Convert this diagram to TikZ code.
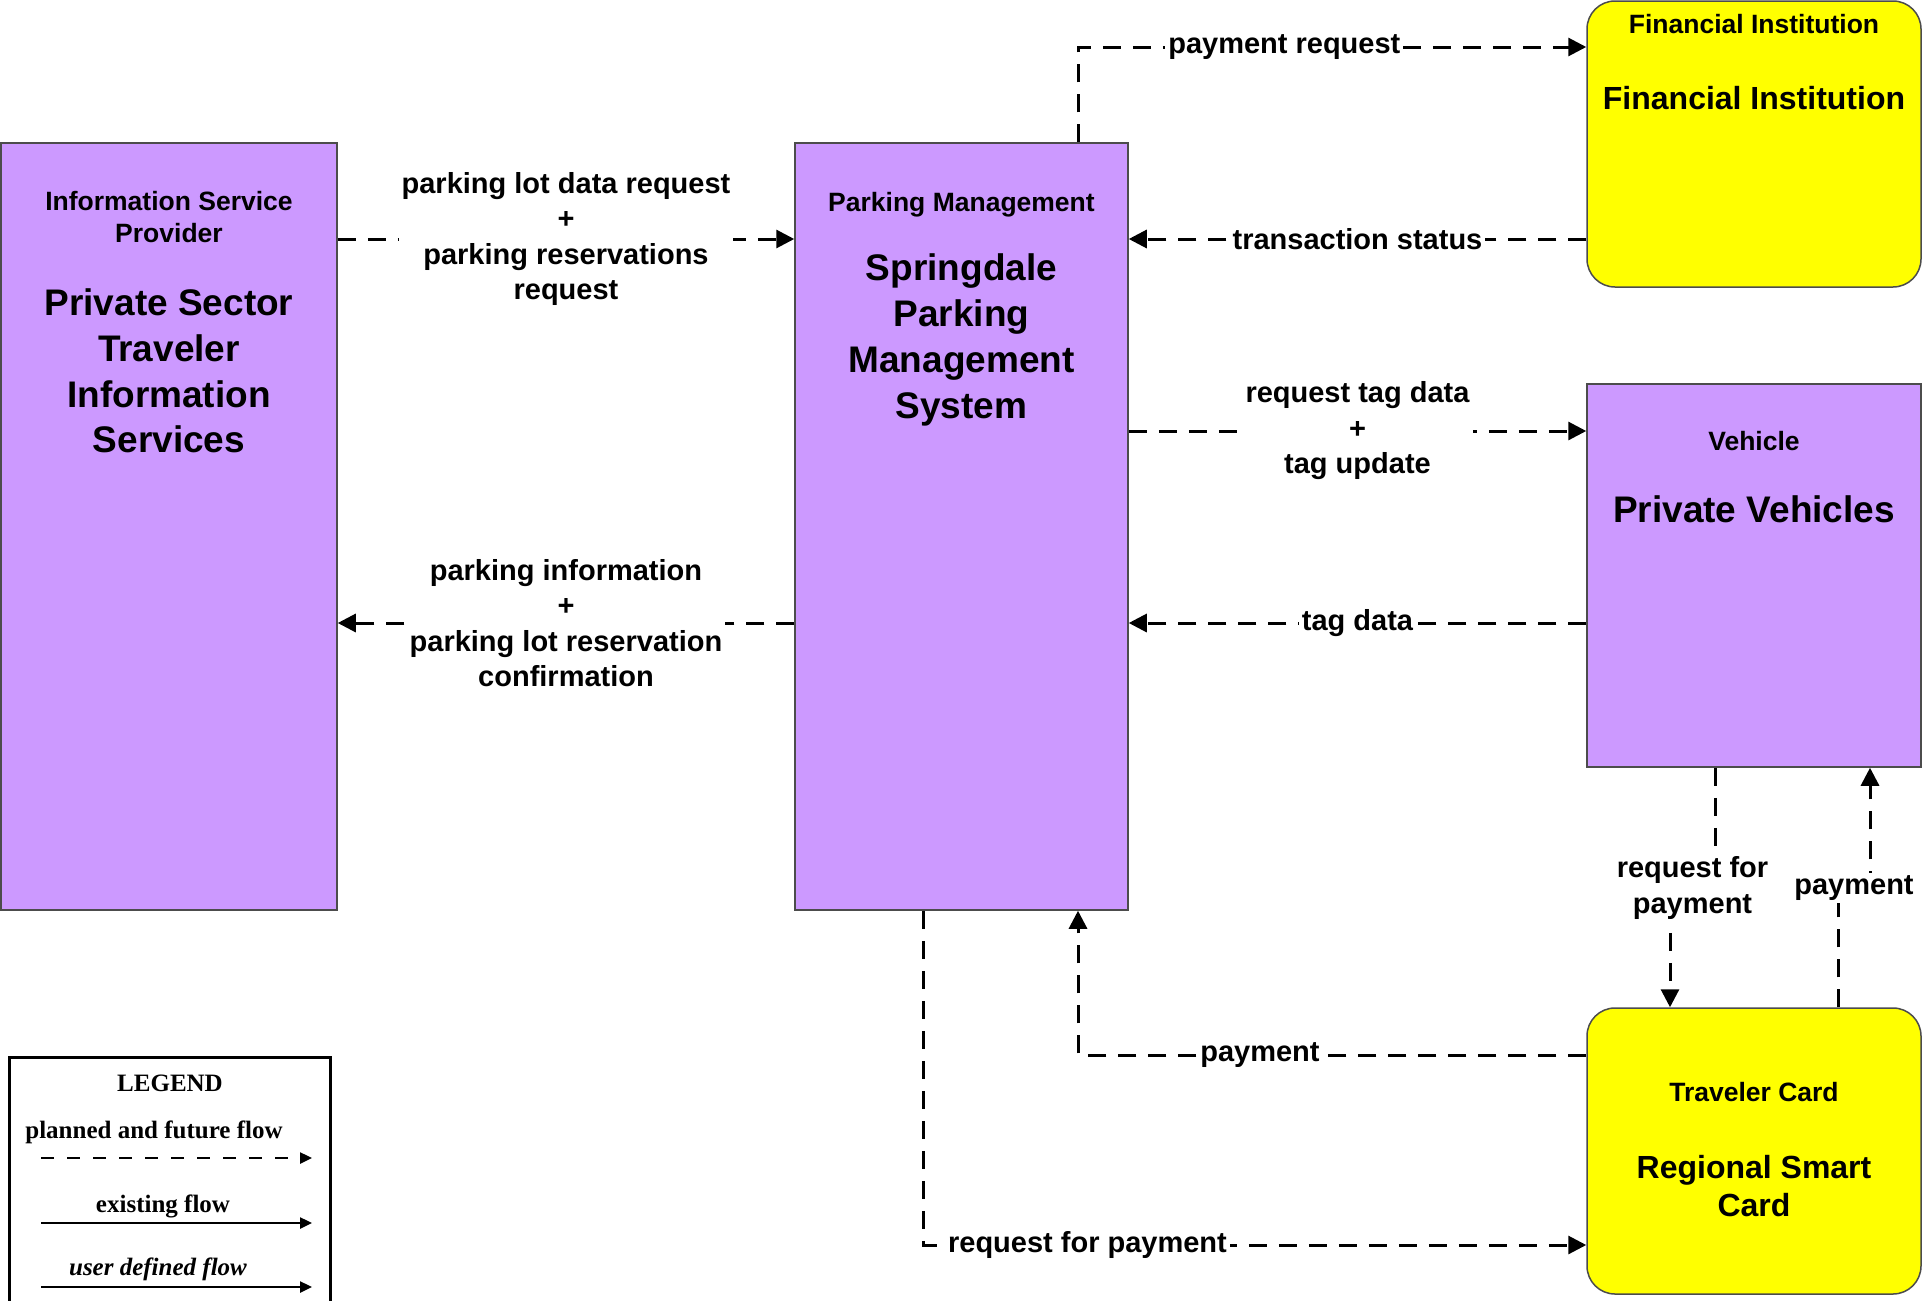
\documentclass[tikz,border=0pt]{standalone}
\usepackage{fontspec}
\setmainfont{Liberation Sans}
\newfontfamily\legendfont{Liberation Serif}
\usetikzlibrary{arrows.meta,positioning}
\definecolor{entpurple}{HTML}{CC99FF}
\definecolor{entyellow}{HTML}{FFFF00}

\begin{document}
\begin{tikzpicture}[x=1pt,y=-1pt,
  sysbox/.style={draw=black!70, line width=1.5pt, fill=entpurple, inner sep=0pt},
  termbox/.style={sysbox, fill=entyellow, rounded corners=28pt},
  typelbl/.style={font=\fontsize{26.5}{31.8}\selectfont\bfseries, align=center, inner sep=0pt},
  bigname/.style={font=\fontsize{37}{45.8}\selectfont\bfseries, align=center, inner sep=0pt},
  midname/.style={font=\fontsize{32}{38.4}\selectfont\bfseries, align=center, inner sep=0pt},
  flow/.style={line width=3pt, dash pattern=on 18pt off 12pt, -{Triangle[length=18pt,width=18pt]}},
  flowlbl/.style={font=\fontsize{29}{35.5}\selectfont\bfseries, align=center, fill=white, inner sep=3pt},
  legtxt/.style={font=\legendfont\fontsize{25}{30}\selectfont\bfseries, inner sep=0pt},
  legflow/.style={line width=2.5pt, -{Triangle[length=12pt,width=11pt]}}]
  \useasboundingbox (0,0) rectangle (1923,1301);
  % entities
  \node[sysbox, minimum width=336pt, minimum height=767pt] (isp) at (169,526.5) {};
  \node[sysbox, minimum width=333pt, minimum height=767pt] (pms) at (961.5,526.5) {};
  \node[termbox, minimum width=334pt, minimum height=286pt] (fin) at (1754,144) {};
  \node[sysbox, minimum width=334pt, minimum height=383pt] (veh) at (1754,575.5) {};
  \node[termbox, minimum width=334pt, minimum height=286pt] (card) at (1754,1151) {};
  \node[typelbl] (isp-type) at (169,217) {Information Service\\Provider};
  \node[bigname] (isp-name) at (169,371) {Private Sector\\Traveler\\Information\\Services};
  \node[typelbl] (pms-type) at (961.5,205) {Parking Management};
  \node[bigname] (pms-name) at (961.5,340) {Springdale\\Parking\\Management\\System};
  \node[typelbl] (fin-type) at (1754,24) {Financial Institution};
  \node[midname] (fin-name) at (1754,98) {Financial Institution};
  \node[typelbl] (veh-type) at (1754,441) {Vehicle};
  \node[bigname] (veh-name) at (1754,509) {Private Vehicles};
  \node[typelbl] (card-type) at (1754,1092) {Traveler Card};
  \node[midname] (card-name) at (1754,1186) {Regional Smart\\Card};
  % rows and columns of the flows
  \coordinate (rowF) at (0,47);
  \coordinate (rowA) at (0,239);
  \coordinate (rowB) at (0,431);
  \coordinate (rowC) at (0,623);
  \coordinate (rowJ) at (0,888);
  \coordinate (rowD) at (0,1055);
  \coordinate (rowE) at (0,1245);
  \coordinate (colU) at (923,0);
  \coordinate (colP) at (1078,0);
  \coordinate (colR) at (1670,0);
  \coordinate (colQ) at (1715,0);
  \coordinate (colS) at (1838,0);
  \coordinate (colT) at (1870,0);
  % flows
  \draw[flow] (isp.east |- rowA) -- node[flowlbl] {parking lot data request\\+\\parking reservations\\request} (pms.west |- rowA);
  \draw[flow] (pms.west |- rowC) -- node[flowlbl] {parking information\\+\\parking lot reservation\\confirmation} (isp.east |- rowC);
  \draw[flow] (pms.north -| colP) -- (colP |- rowF) -- node[flowlbl, pos=0.406] {payment request} (fin.west |- rowF);
  \draw[flow] (fin.west |- rowA) -- node[flowlbl] {transaction status} (pms.east |- rowA);
  \draw[flow] (pms.east |- rowB) -- node[flowlbl] {request tag data\\+\\tag update} (veh.west |- rowB);
  \draw[flow] (veh.west |- rowC) -- node[flowlbl] {tag data} (pms.east |- rowC);
  \draw[flow] (veh.south -| colQ) -- (colQ |- rowJ) -- node[flowlbl] {request for\\payment} (colR |- rowJ) -- (card.north -| colR);
  \draw[flow] (card.north -| colS) -- (colS |- rowJ) -- node[flowlbl] {payment} (colT |- rowJ) -- (veh.south -| colT);
  \draw[flow] (card.west |- rowD) -- node[flowlbl, pos=0.642] {payment} (colP |- rowD) -- (pms.south -| colP);
  \draw[flow] (pms.south -| colU) -- (colU |- rowE) -- node[flowlbl, pos=0.248] {request for payment} (card.west |- rowE);
  % legend
  \node[draw, line width=3pt, minimum width=321pt, minimum height=262pt, inner sep=0pt] (legend) at (169.5,1188) {};
  \node[legtxt] (leg-title) at (170,1083.5) {LEGEND};
  \node[legtxt] (leg-planned) at (154,1132.5) {planned and future flow};
  \node[legtxt] (leg-existing) at (163,1206) {existing flow};
  \node[legtxt] (leg-user) at (158,1269) {\itshape user defined flow};
  \coordinate (plannedL) at (41,1158);  \coordinate (plannedR) at (312,1158);
  \coordinate (existingL) at (41,1223); \coordinate (existingR) at (312,1223);
  \coordinate (userL) at (41,1287);     \coordinate (userR) at (312,1287);
  \draw[legflow, dash pattern=on 13pt off 13pt] (plannedL) -- (plannedR);
  \draw[legflow] (existingL) -- (existingR);
  \draw[legflow] (userL) -- (userR);
\end{tikzpicture}
\end{document}
